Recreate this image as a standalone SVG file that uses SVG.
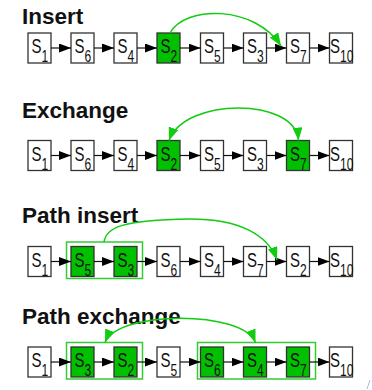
<svg xmlns="http://www.w3.org/2000/svg" width="372" height="390" viewBox="0 0 372 390">
<style>
.t{font-family:"Liberation Sans",Arial,sans-serif;font-weight:bold;font-size:22.5px;fill:#111}
.lb{font-family:"Liberation Sans",Arial,sans-serif;font-size:20px;fill:#111}
.sub{font-size:16px}
.n{fill:#fff;stroke:#333;stroke-width:1.3}
.g{fill:#00c000;stroke:#333;stroke-width:1.3}
.grp{fill:none;stroke:#3c3;stroke-width:1.5}
.c{stroke:#111;stroke-width:1.2;fill:none;marker-end:url(#ab)}
.arc{stroke:#1c1;stroke-width:1.5;fill:none}
</style>
<defs>
<marker id="ab" markerUnits="userSpaceOnUse" markerWidth="12" markerHeight="9" refX="12" refY="4.5" orient="auto"><path d="M0,0 L12,4.5 L0,9 z" fill="#000"/></marker>
<marker id="ag" markerUnits="userSpaceOnUse" markerWidth="13" markerHeight="10" refX="13" refY="5" orient="auto-start-reverse"><path d="M0,0 L13,5 L0,10 z" fill="#1c1"/></marker>
</defs>
<g id="titles">
<text class="t" x="22" y="24">Insert</text>
<text class="t" x="22" y="117.5">Exchange</text>
<text class="t" x="22" y="223">Path insert</text>
<text class="t" x="22" y="323.5">Path exchange</text>
</g>
<g id="groups">
<rect id="grp3" class="grp" x="66.5" y="242" width="76" height="36.5"/>
<rect id="grp4a" class="grp" x="66.5" y="342.5" width="76" height="36.5"/>
<rect id="grp4b" class="grp" x="197.5" y="342.5" width="118" height="36.5"/>
</g>
<!-- Row 1 -->
<g id="r1-s1" transform="translate(28,33)"><rect class="n" width="23" height="30"/><text class="lb" transform="translate(3.5,20) scale(0.75,1)">S<tspan class="sub" dy="9">1</tspan></text></g>
<g id="r1-s6" transform="translate(71,33)"><rect class="n" width="23" height="30"/><text class="lb" transform="translate(3.5,20) scale(0.75,1)">S<tspan class="sub" dy="9">6</tspan></text></g>
<g id="r1-s4" transform="translate(114,33)"><rect class="n" width="23" height="30"/><text class="lb" transform="translate(3.5,20) scale(0.75,1)">S<tspan class="sub" dy="9">4</tspan></text></g>
<g id="r1-s2" transform="translate(157,33)"><rect class="g" width="23" height="30"/><text class="lb" transform="translate(3.5,20) scale(0.75,1)">S<tspan class="sub" dy="9">2</tspan></text></g>
<g id="r1-s5" transform="translate(200.5,33)"><rect class="n" width="23" height="30"/><text class="lb" transform="translate(3.5,20) scale(0.75,1)">S<tspan class="sub" dy="9">5</tspan></text></g>
<g id="r1-s3" transform="translate(243.5,33)"><rect class="n" width="23" height="30"/><text class="lb" transform="translate(3.5,20) scale(0.75,1)">S<tspan class="sub" dy="9">3</tspan></text></g>
<g id="r1-s7" transform="translate(286.5,33)"><rect class="n" width="23" height="30"/><text class="lb" transform="translate(3.5,20) scale(0.75,1)">S<tspan class="sub" dy="9">7</tspan></text></g>
<g id="r1-s10" transform="translate(329.5,33)"><rect class="n" width="23" height="30"/><text class="lb" transform="translate(0.5,20) scale(0.75,1)">S<tspan class="sub" dy="9">10</tspan></text></g>
<!-- Row 2 -->
<g id="r2-s1" transform="translate(28,140.5)"><rect class="n" width="23" height="30"/><text class="lb" transform="translate(3.5,20) scale(0.75,1)">S<tspan class="sub" dy="9">1</tspan></text></g>
<g id="r2-s6" transform="translate(71,140.5)"><rect class="n" width="23" height="30"/><text class="lb" transform="translate(3.5,20) scale(0.75,1)">S<tspan class="sub" dy="9">6</tspan></text></g>
<g id="r2-s4" transform="translate(114,140.5)"><rect class="n" width="23" height="30"/><text class="lb" transform="translate(3.5,20) scale(0.75,1)">S<tspan class="sub" dy="9">4</tspan></text></g>
<g id="r2-s2" transform="translate(157,140.5)"><rect class="g" width="23" height="30"/><text class="lb" transform="translate(3.5,20) scale(0.75,1)">S<tspan class="sub" dy="9">2</tspan></text></g>
<g id="r2-s5" transform="translate(200.5,140.5)"><rect class="n" width="23" height="30"/><text class="lb" transform="translate(3.5,20) scale(0.75,1)">S<tspan class="sub" dy="9">5</tspan></text></g>
<g id="r2-s3" transform="translate(243.5,140.5)"><rect class="n" width="23" height="30"/><text class="lb" transform="translate(3.5,20) scale(0.75,1)">S<tspan class="sub" dy="9">3</tspan></text></g>
<g id="r2-s7" transform="translate(286.5,140.5)"><rect class="g" width="23" height="30"/><text class="lb" transform="translate(3.5,20) scale(0.75,1)">S<tspan class="sub" dy="9">7</tspan></text></g>
<g id="r2-s10" transform="translate(329.5,140.5)"><rect class="n" width="23" height="30"/><text class="lb" transform="translate(0.5,20) scale(0.75,1)">S<tspan class="sub" dy="9">10</tspan></text></g>
<!-- Row 3 -->
<g id="r3-s1" transform="translate(28,246.5)"><rect class="n" width="23" height="30"/><text class="lb" transform="translate(3.5,20) scale(0.75,1)">S<tspan class="sub" dy="9">1</tspan></text></g>
<g id="r3-s5" transform="translate(71,246.5)"><rect class="g" width="23" height="30"/><text class="lb" transform="translate(3.5,20) scale(0.75,1)">S<tspan class="sub" dy="9">5</tspan></text></g>
<g id="r3-s3" transform="translate(114,246.5)"><rect class="g" width="23" height="30"/><text class="lb" transform="translate(3.5,20) scale(0.75,1)">S<tspan class="sub" dy="9">3</tspan></text></g>
<g id="r3-s6" transform="translate(157,246.5)"><rect class="n" width="23" height="30"/><text class="lb" transform="translate(3.5,20) scale(0.75,1)">S<tspan class="sub" dy="9">6</tspan></text></g>
<g id="r3-s4" transform="translate(200.5,246.5)"><rect class="n" width="23" height="30"/><text class="lb" transform="translate(3.5,20) scale(0.75,1)">S<tspan class="sub" dy="9">4</tspan></text></g>
<g id="r3-s7" transform="translate(243.5,246.5)"><rect class="n" width="23" height="30"/><text class="lb" transform="translate(3.5,20) scale(0.75,1)">S<tspan class="sub" dy="9">7</tspan></text></g>
<g id="r3-s2" transform="translate(286.5,246.5)"><rect class="n" width="23" height="30"/><text class="lb" transform="translate(3.5,20) scale(0.75,1)">S<tspan class="sub" dy="9">2</tspan></text></g>
<g id="r3-s10" transform="translate(329.5,246.5)"><rect class="n" width="23" height="30"/><text class="lb" transform="translate(0.5,20) scale(0.75,1)">S<tspan class="sub" dy="9">10</tspan></text></g>
<!-- Row 4 -->
<g id="r4-s1" transform="translate(28,347)"><rect class="n" width="23" height="30"/><text class="lb" transform="translate(3.5,20) scale(0.75,1)">S<tspan class="sub" dy="9">1</tspan></text></g>
<g id="r4-s3" transform="translate(71,347)"><rect class="g" width="23" height="30"/><text class="lb" transform="translate(3.5,20) scale(0.75,1)">S<tspan class="sub" dy="9">3</tspan></text></g>
<g id="r4-s2" transform="translate(114,347)"><rect class="g" width="23" height="30"/><text class="lb" transform="translate(3.5,20) scale(0.75,1)">S<tspan class="sub" dy="9">2</tspan></text></g>
<g id="r4-s5" transform="translate(157,347)"><rect class="n" width="23" height="30"/><text class="lb" transform="translate(3.5,20) scale(0.75,1)">S<tspan class="sub" dy="9">5</tspan></text></g>
<g id="r4-s6" transform="translate(200.5,347)"><rect class="g" width="23" height="30"/><text class="lb" transform="translate(3.5,20) scale(0.75,1)">S<tspan class="sub" dy="9">6</tspan></text></g>
<g id="r4-s4" transform="translate(243.5,347)"><rect class="g" width="23" height="30"/><text class="lb" transform="translate(3.5,20) scale(0.75,1)">S<tspan class="sub" dy="9">4</tspan></text></g>
<g id="r4-s7" transform="translate(286.5,347)"><rect class="g" width="23" height="30"/><text class="lb" transform="translate(3.5,20) scale(0.75,1)">S<tspan class="sub" dy="9">7</tspan></text></g>
<g id="r4-s10" transform="translate(329.5,347)"><rect class="n" width="23" height="30"/><text class="lb" transform="translate(0.5,20) scale(0.75,1)">S<tspan class="sub" dy="9">10</tspan></text></g>
<g id="connectors">
<path class="c" d="M51,48H71"/><path class="c" d="M94,48H114"/><path class="c" d="M137,48H157"/><path class="c" d="M180,48H200.5"/><path class="c" d="M223.5,48H243.5"/><path class="c" d="M266.5,48H286.5"/><path class="c" d="M309.5,48H329.5"/>
<path class="c" d="M51,155.5H71"/><path class="c" d="M94,155.5H114"/><path class="c" d="M137,155.5H157"/><path class="c" d="M180,155.5H200.5"/><path class="c" d="M223.5,155.5H243.5"/><path class="c" d="M266.5,155.5H286.5"/><path class="c" d="M309.5,155.5H329.5"/>
<path class="c" d="M51,261.5H71"/><path class="c" d="M94,261.5H114"/><path class="c" d="M137,261.5H157"/><path class="c" d="M180,261.5H200.5"/><path class="c" d="M223.5,261.5H243.5"/><path class="c" d="M266.5,261.5H286.5"/><path class="c" d="M309.5,261.5H329.5"/>
<path class="c" d="M51,362H71"/><path class="c" d="M94,362H114"/><path class="c" d="M137,362H157"/><path class="c" d="M180,362H200.5"/><path class="c" d="M223.5,362H243.5"/><path class="c" d="M266.5,362H286.5"/><path class="c" d="M309.5,362H329.5"/>
<path class="arc" marker-end="url(#ag)" d="M170,33 C185,5 255,5 281,46"/>
<path class="arc" marker-start="url(#ag)" marker-end="url(#ag)" d="M169,140.5 C185,97 295,97 298.5,140.5"/>
<path class="arc" marker-end="url(#ag)" d="M104,242 C106,228 120,220 190,219 C240,219 268,235 277,260"/>
<path class="arc" marker-start="url(#ag)" marker-end="url(#ag)" d="M105,342.5 C118,310 243,310 255.5,342.5"/>
</g>
<path d="M367,389 L370,380" stroke="#9bc0ea" stroke-width="1" fill="none"/>
</svg>
